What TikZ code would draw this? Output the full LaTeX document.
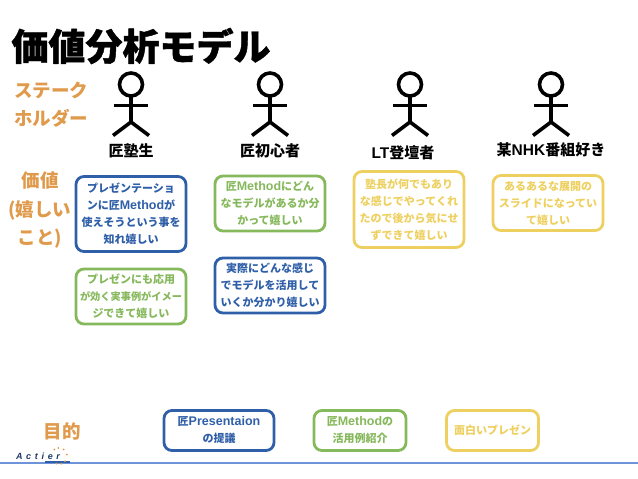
\documentclass[tikz,border=0pt]{standalone}
\usepackage{fontspec}
\setmainfont{Noto Sans CJK JP}
\newfontfamily\heavyfont{Noto Sans CJK JP}[BoldFeatures={FakeBold=1.2}]
\newfontfamily\latfont{Liberation Sans}
\newcommand{\lat}[2][12.5]{{\latfont\bfseries\fontsize{#1}{17}\selectfont #2}}
\usepackage{xcolor}
\definecolor{valblue}{HTML}{2F5FA8}
\definecolor{valgreen}{HTML}{86B85C}
\definecolor{valyellow}{HTML}{EDD060}
\definecolor{headorange}{HTML}{E09A4C}
\definecolor{ruleblue}{HTML}{6F93D8}
\tikzset{
  valbox/.style={draw=#1, text=#1, line width=2.8pt, rounded corners=8pt, align=center, inner sep=0pt,
    font=\fontsize{11}{17}\selectfont\bfseries, minimum width=110pt, minimum height=55pt},
  headlabel/.style={text=headorange, align=center, inner sep=0pt, font=\fontsize{18.5}{28.5}\selectfont\bfseries},
  actorlabel/.style={inner sep=0pt, font=\fontsize{15}{16}\selectfont\bfseries},
}
\begin{document}
\begin{tikzpicture}[x=1pt, y=-1pt, line join=round]
	\useasboundingbox (0,0) rectangle (638,479);
	\node (title) at (141,46) [inner sep=0pt, font=\fontsize{37}{40}\selectfont\heavyfont\bfseries] {価値分析モデル};
	\node (stakeholder) at (51,104.5) [headlabel] {ステーク\\ホルダー};
	\node (value) at (40,210) [headlabel] {価値\\(嬉しい\\こと)};
	\node (goal) at (62,431) [headlabel] {目的};
	% actors
	\foreach \x in {131,270,410,551} {
		\draw[line width=3.6pt] (\x,84.5) circle (11.5pt);
		\draw[line width=3.6pt] (\x,96)--(\x,122);
		\draw[line width=3.6pt] (\x-17,105.5)--(\x+17,105.5);
		\draw[line width=3.6pt] (\x-18,135.5)--(\x,122)--(\x+18,135.5);
	}
	\node (juku) at (131,151) [actorlabel] {匠塾生};
	\node (shoshin) at (270,151) [actorlabel] {匠初心者};
	\node (lt) at (403,153) [actorlabel] {\lat[15.5]{LT}登壇者};
	\node (nhk) at (551,150) [actorlabel] {某\lat[15.5]{NHK}番組好き};
	% value boxes
	\node (v1) at (131,214) [valbox=valblue, minimum height=75pt] {プレゼンテーショ\\ンに匠\lat{Method}が\\使えそうという事を\\知れ嬉しい};
	\node (v2) at (131,296.5) [valbox=valgreen] {プレゼンにも応用\\{\fontsize{10.2}{17}\selectfont が効く実事例がイメー}\\ジできて嬉しい};
	\node (v3) at (270,203.5) [valbox=valgreen] {匠\lat{Method}にどん\\なモデルがあるか分\\かって嬉しい};
	\node (v4) at (270,285.5) [valbox=valblue] {実際にどんな感じ\\でモデルを活用して\\いくか分かり嬉しい};
	\node (v5) at (409,209.5) [valbox=valyellow, minimum height=76pt] {塾長が何でもあり\\な感じでやってくれ\\たので後から気にせ\\ずできて嬉しい};
	\node (v6) at (548,203) [valbox=valyellow] {あるあるな展開の\\スライドになってい\\て嬉しい};
	% goal boxes
	\node (g1) at (219,430.5) [valbox=valblue, minimum height=40pt] {匠\lat{Presentaion}\\の提議};
	\node (g2) at (360,430.5) [valbox=valgreen, minimum width=92pt, minimum height=40pt] {匠\lat{Method}の\\活用例紹介};
	\node (g3) at (492.5,430.5) [valbox=valyellow, minimum width=92pt, minimum height=40pt] {面白いプレゼン};
	% rule and logo
	\draw[ruleblue, line width=1.2pt] (0,463)--(638,463);
	\fill[valblue] (45,461) rectangle (70,462.5);
	\node (logo) at (38,456) [inner sep=0pt, text=valblue!60!black, font=\latfont\fontsize{9}{9}\selectfont\bfseries\itshape] {A\hspace{3.4pt}c\hspace{3.8pt}t\hspace{3.8pt}i\hspace{3.8pt}e\hspace{3.4pt}r};
	\foreach \a in {-110,-75,-40,10,55,95,125} {
		\fill[headorange] (59,456)++(\a:8pt) circle (1pt);
	}
\end{tikzpicture}
\end{document}
